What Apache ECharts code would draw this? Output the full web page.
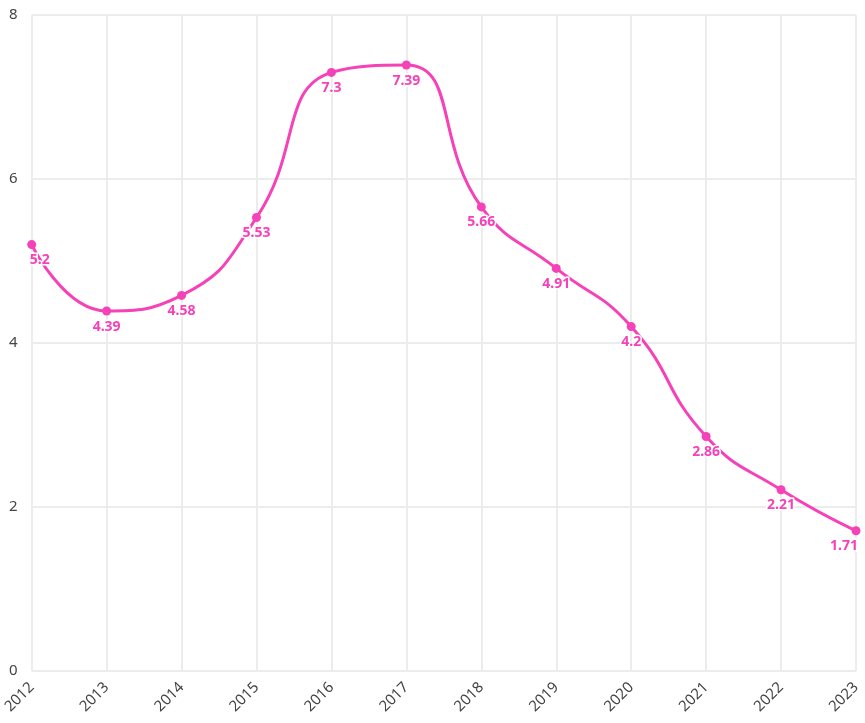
<!DOCTYPE html>
<html><head><meta charset="utf-8">
<script src="https://cdn.jsdelivr.net/npm/echarts@6/dist/echarts.min.js"></script>
<style>html,body{margin:0;padding:0;background:#fff}#c{width:865px;height:723px}</style>
</head><body><div id="c"></div>
<script>
const years = ['2012','2013','2014','2015','2016','2017','2018','2019','2020','2021','2022','2023'];
const values = [5.2,4.39,4.58,5.53,7.3,7.39,5.66,4.91,4.2,2.86,2.21,1.71];
const yTicks = [0,2,4,6,8];
const color = '#F542B8';
const chart = echarts.init(document.getElementById('c'));
const data = values.map((v,i)=>{
  const d = {value:v};
  if(i===0) d.label = {align:'left', offset:[-2,0]};
  if(i===values.length-1) d.label = {align:'right', offset:[2,0]};
  return d;
});
chart.setOption({
  animation:false,
  grid:{left:28,right:9,top:15,bottom:52,containLabel:false},
  xAxis:{type:'category',data:years,boundaryGap:false,
    axisLine:{show:false},axisTick:{show:false},
    axisLabel:{rotate:45,color:'#444',fontSize:15,fontFamily:'Noto Sans',margin:14},
    splitLine:{show:true,lineStyle:{color:'#ececec',width:2}}},
  yAxis:{type:'value',min:yTicks[0],max:yTicks[yTicks.length-1],interval:2,
    axisLine:{show:false},axisTick:{show:false},
    axisLabel:{color:'#444',fontSize:15,fontFamily:'Noto Sans',margin:14},
    splitLine:{lineStyle:{color:'#ececec',width:2}}},
  series:[{type:'line',data:data,smooth:0.5,symbol:'circle',symbolSize:9,
    lineStyle:{color:color,width:3},itemStyle:{color:color},
    label:{show:true,position:'bottom',distance:4,color:color,fontWeight:'bold',fontSize:14,
      fontFamily:'Noto Sans',textBorderColor:'#fff',textBorderWidth:3}}]
});
</script></body></html>
